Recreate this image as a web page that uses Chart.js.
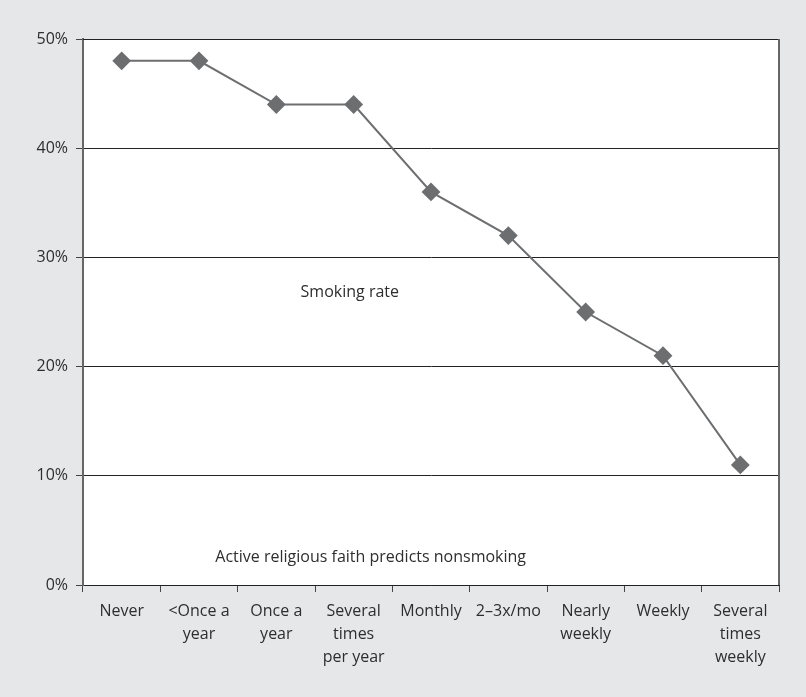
<!DOCTYPE html>
<html>
<head>
<meta charset="utf-8">
<script src="https://cdn.jsdelivr.net/npm/chart.js@4.4.1/dist/chart.umd.min.js"></script>
<style>
  html, body { margin: 0; padding: 0; background: #e6e7e8; }
  #wrap { width: 806px; height: 697px; }
</style>
</head>
<body>
<div id="wrap"><canvas id="myChart"></canvas></div>
<script>
// attendance categories (multi-line labels)
const categorias = [
	'Never',
	['<Once a', 'year'],
	['Once a', 'year'],
	['Several', 'times', 'per year'],
	'Monthly',
	'2\u20133x/mo',
	['Nearly', 'weekly'],
	'Weekly',
	['Several', 'times', 'weekly']
];

// smoking rate in percent
const taxaFumo = [48, 48, 44, 44, 36, 32, 25, 21, 11];

const yTicks = [0, 10, 20, 30, 40, 50];

// text notes placed on the scales: [x index, y value, text]
const notas = [
	[2.95, 26.8, 'Smoking rate'],
	[3.22, 2.5, 'Active religious faith predicts nonsmoking']
];

const fonte = '"Open Sans", "Noto Sans", sans-serif';
const corTexto = '#2e2e2e';

// frame of the plot area + free text notes
const moldura = {
	id: 'moldura',
	beforeDraw(chart) {
		const ctx = chart.ctx;
		const a = chart.chartArea;
		ctx.save();
		ctx.fillStyle = '#ffffff';
		ctx.fillRect(a.left, a.top, a.right - a.left, a.bottom - a.top);
		ctx.restore();
	},
	afterDatasetsDraw(chart) {
		const ctx = chart.ctx;
		const a = chart.chartArea;
		ctx.save();
		ctx.strokeStyle = '#222';
		ctx.lineWidth = 1;
		ctx.beginPath();
		ctx.moveTo(a.left, a.top + 0.5);
		ctx.lineTo(a.right, a.top + 0.5);
		ctx.stroke();
		ctx.strokeStyle = '#666';
		ctx.lineWidth = 2;
		ctx.beginPath();
		ctx.moveTo(a.right, a.top);
		ctx.lineTo(a.right, a.bottom);
		ctx.stroke();

		const xs = chart.scales.x;
		const ys = chart.scales.y;
		ctx.fillStyle = corTexto;
		ctx.font = '16px ' + fonte;
		ctx.textAlign = 'center';
		ctx.textBaseline = 'middle';
		notas.forEach(n => {
			ctx.fillText(n[2], xs.getPixelForValue(n[0]), ys.getPixelForValue(n[1]));
		});
		ctx.restore();
	}
};

const config = {
	type: 'line',
	data: {
		labels: categorias,
		datasets: [{
			label: 'Smoking rate',
			data: taxaFumo,
			borderColor: '#6d6e70',
			backgroundColor: '#6d6e70',
			borderWidth: 2,
			pointStyle: 'rectRot',
			pointRadius: 8,
			pointHoverRadius: 8,
			tension: 0
		}]
	},
	options: {
		responsive: false,
		animation: false,
		devicePixelRatio: 1,
		layout: { padding: { top: 39, right: 27, left: 0, bottom: 0 } },
		plugins: {
			legend: { display: false },
			tooltip: { enabled: false }
		},
		scales: {
			x: {
				offset: true,
				grid: {
					offset: true,
					drawOnChartArea: false,
					drawTicks: true,
					tickLength: 7,
					color: '#444'
				},
				border: { color: '#222', width: 1 },
				ticks: {
					color: corTexto,
					font: { family: fonte, size: 16, lineHeight: 1.44 },
					padding: 8,
					maxRotation: 0,
					autoSkip: false
				},
				afterFit(scale) { scale.height = 112; }
			},
			y: {
				min: 0,
				max: 50,
				afterBuildTicks(scale) {
					scale.ticks = yTicks.map(v => ({ value: v }));
				},
				grid: {
					color: '#222',
					lineWidth: 1,
					tickLength: 7,
					tickColor: '#444'
				},
				border: { color: '#666', width: 2 },
				ticks: {
					color: corTexto,
					font: { family: fonte, size: 16 },
					padding: 8,
					callback: v => v + '%'
				},
				afterFit(scale) { scale.width = 83; }
			}
		}
	},
	plugins: [moldura]
};

const canvas = document.getElementById('myChart');
canvas.width = 806;
canvas.height = 697;
new Chart(canvas, config);
</script>
</body>
</html>
